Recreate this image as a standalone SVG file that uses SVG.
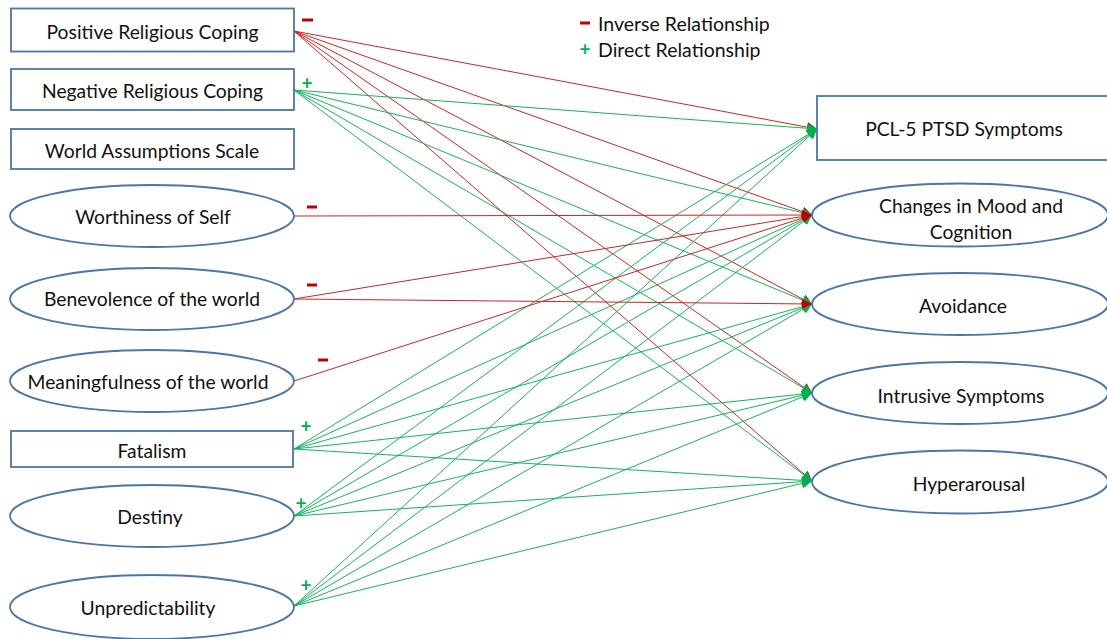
<svg xmlns="http://www.w3.org/2000/svg" width="1107" height="639" viewBox="0 0 1107 639">
<style>
.box{fill:#fff;stroke:#4a76a8;stroke-width:1.8}
.t{font-family:Lato,"Open Sans",sans-serif;font-size:19.3px;fill:#111;text-anchor:middle;dominant-baseline:central}
.lg{font-family:Lato,"Open Sans",sans-serif;font-size:19.5px;fill:#111;dominant-baseline:central}
.r{stroke:#cc2424;stroke-width:1;fill:none;marker-end:url(#ar)}
.g{stroke:#14b45a;stroke-width:1;fill:none;marker-end:url(#ag)}
.minus{fill:#c00000}
.plus{font-family:Lato,"Open Sans",sans-serif;font-size:19px;font-weight:bold;fill:#00b050;text-anchor:middle;dominant-baseline:central}
</style>
<defs>
<marker id="ar" markerUnits="userSpaceOnUse" markerWidth="11" markerHeight="10" refX="10" refY="5" orient="auto"><path d="M0,0 L10,5 L0,10 z" fill="#c00000"/></marker>
<marker id="ag" markerUnits="userSpaceOnUse" markerWidth="11" markerHeight="10" refX="10" refY="5" orient="auto"><path d="M0,0 L10,5 L0,10 z" fill="#00b050"/></marker>
</defs>
<rect width="1107" height="639" fill="#fff"/>

<g id="connectors">
<line class="r" x1="294" y1="31" x2="817" y2="129"/>
<line class="r" x1="294" y1="31" x2="812" y2="215"/>
<line class="r" x1="294" y1="31" x2="812" y2="304"/>
<line class="r" x1="294" y1="31" x2="812" y2="393"/>
<line class="r" x1="294" y1="31" x2="812" y2="481"/>
<line class="g" x1="294" y1="90" x2="817" y2="129"/>
<line class="g" x1="294" y1="90" x2="812" y2="215"/>
<line class="g" x1="294" y1="90" x2="812" y2="304"/>
<line class="g" x1="294" y1="90" x2="812" y2="393"/>
<line class="g" x1="294" y1="90" x2="812" y2="481"/>
<line class="g" x1="294" y1="449" x2="817" y2="129"/>
<line class="g" x1="294" y1="449" x2="812" y2="215"/>
<line class="g" x1="294" y1="449" x2="812" y2="304"/>
<line class="g" x1="294" y1="449" x2="812" y2="393"/>
<line class="g" x1="294" y1="449" x2="812" y2="481"/>
<line class="g" x1="294" y1="516" x2="817" y2="129"/>
<line class="g" x1="294" y1="516" x2="812" y2="215"/>
<line class="g" x1="294" y1="516" x2="812" y2="304"/>
<line class="g" x1="294" y1="516" x2="812" y2="393"/>
<line class="g" x1="294" y1="516" x2="812" y2="481"/>
<line class="g" x1="294" y1="606" x2="817" y2="129"/>
<line class="g" x1="294" y1="606" x2="812" y2="215"/>
<line class="g" x1="294" y1="606" x2="812" y2="304"/>
<line class="g" x1="294" y1="606" x2="812" y2="393"/>
<line class="g" x1="294" y1="606" x2="812" y2="481"/>
<line class="r" x1="294" y1="216" x2="812" y2="215"/>
<line class="r" x1="294" y1="299" x2="812" y2="215"/>
<line class="r" x1="294" y1="381" x2="812" y2="215"/>
<line class="r" x1="294" y1="299" x2="812" y2="304"/>
</g>

<g id="signs">
<rect class="minus" x="302" y="18.5" width="11" height="3"/>
<rect class="minus" x="307" y="205.5" width="10" height="3"/>
<rect class="minus" x="307" y="283.5" width="10" height="3"/>
<rect class="minus" x="318" y="358.5" width="10" height="3"/>
<text class="plus" x="307" y="82">+</text>
<text class="plus" x="306" y="425">+</text>
<text class="plus" x="301" y="502">+</text>
<text class="plus" x="306" y="584">+</text>
</g>

<g id="legend">
<rect class="minus" x="580" y="21.5" width="10" height="3"/>
<text class="lg" x="598" y="23">Inverse Relationship</text>
<text class="plus" x="585" y="48">+</text>
<text class="lg" x="598" y="49">Direct Relationship</text>
</g>

<g id="n-positive"><rect class="box" x="11" y="8.5" width="283" height="43"/><text class="t" x="152.5" y="31">Positive Religious Coping</text></g>
<g id="n-negative"><rect class="box" x="11" y="69" width="283" height="41"/><text class="t" x="152.5" y="90">Negative Religious Coping</text></g>
<g id="n-world"><rect class="box" x="11" y="129" width="283" height="40"/><text class="t" x="152" y="150">World Assumptions Scale</text></g>
<g id="n-worthiness"><ellipse class="box" cx="152" cy="216" rx="142" ry="31"/><text class="t" x="153" y="216">Worthiness of Self</text></g>
<g id="n-benevolence"><ellipse class="box" cx="152" cy="299" rx="142" ry="31"/><text class="t" x="152" y="298">Benevolence of the world</text></g>
<g id="n-meaningfulness"><ellipse class="box" cx="152" cy="381" rx="142" ry="31"/><text class="t" x="148" y="381">Meaningfulness of the world</text></g>
<g id="n-fatalism"><rect class="box" x="11" y="431" width="282" height="36"/><text class="t" x="152" y="450">Fatalism</text></g>
<g id="n-destiny"><ellipse class="box" cx="152" cy="516" rx="142" ry="31"/><text class="t" x="150" y="516">Destiny</text></g>
<g id="n-unpredictability"><ellipse class="box" cx="152" cy="607" rx="142" ry="32"/><text class="t" x="148" y="607">Unpredictability</text></g>

<g id="n-pcl"><rect class="box" x="817" y="96" width="292" height="64"/><text class="t" x="964" y="128">PCL-5 PTSD Symptoms</text></g>
<g id="n-changes"><ellipse class="box" cx="960" cy="215" rx="148" ry="31.5"/><text class="t" x="971" y="205">Changes in Mood and</text><text class="t" x="971" y="231">Cognition</text></g>
<g id="n-avoidance"><ellipse class="box" cx="960" cy="304" rx="148" ry="31"/><text class="t" x="963" y="305">Avoidance</text></g>
<g id="n-intrusive"><ellipse class="box" cx="960" cy="393" rx="148" ry="31"/><text class="t" x="961" y="395">Intrusive Symptoms</text></g>
<g id="n-hyper"><ellipse class="box" cx="960" cy="482" rx="148" ry="31.5"/><text class="t" x="969" y="483">Hyperarousal</text></g>
</svg>
